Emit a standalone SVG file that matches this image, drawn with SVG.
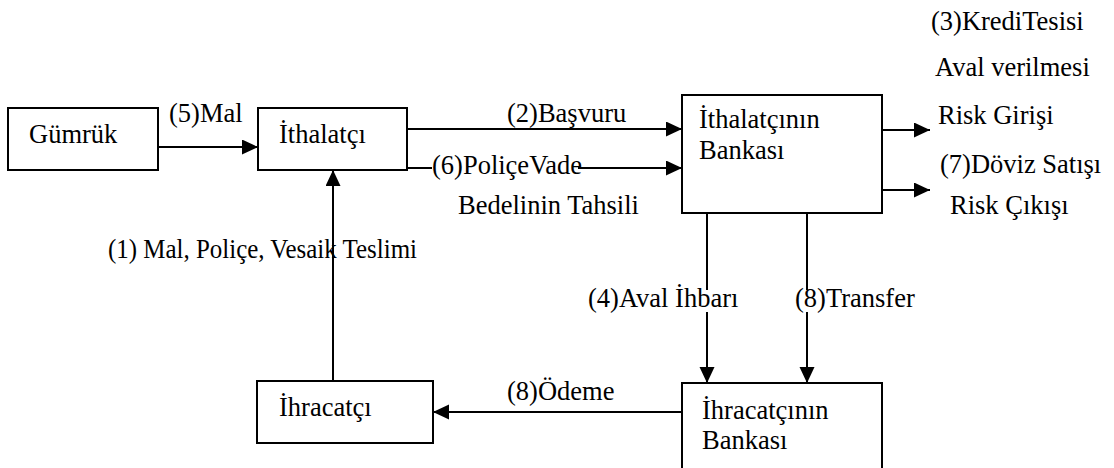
<svg xmlns="http://www.w3.org/2000/svg" width="1114" height="468" viewBox="0 0 1114 468">
  <style>
    .box { fill: #fff; stroke: #000; stroke-width: 2; }
    .edge { fill: none; stroke: #000; stroke-width: 2; }
    .bg { fill: #fff; }
  </style>
  <defs>
    <marker id="arrow" markerUnits="userSpaceOnUse" markerWidth="17" markerHeight="16" refX="16" refY="7.5" orient="auto">
      <path d="M0,0 L16,7.5 L0,15 z" fill="#000"/>
    </marker>
  </defs>
  <rect width="1114" height="468" fill="#fff"/>

  <!-- connectors -->
  <g id="connectors">
    <line class="edge" x1="158" y1="147" x2="258" y2="147" marker-end="url(#arrow)"/>
    <line class="edge" x1="407" y1="129" x2="682" y2="129" marker-end="url(#arrow)"/>
    <line class="edge" x1="407" y1="168" x2="432" y2="168"/>
    <line class="edge" x1="578" y1="168" x2="682" y2="168" marker-end="url(#arrow)"/>
    <line class="edge" x1="882" y1="130" x2="930" y2="130" marker-end="url(#arrow)"/>
    <line class="edge" x1="882" y1="190" x2="930" y2="190" marker-end="url(#arrow)"/>
    <line class="edge" x1="707" y1="213" x2="707" y2="383" marker-end="url(#arrow)"/>
    <line class="edge" x1="807" y1="213" x2="807" y2="383" marker-end="url(#arrow)"/>
    <line class="edge" x1="682" y1="412" x2="433" y2="412" marker-end="url(#arrow)"/>
    <line class="edge" x1="333" y1="381" x2="333" y2="170" marker-end="url(#arrow)"/>
  </g>

  <!-- connector labels -->
  <g id="labels">
    <text font-family="Liberation Serif, serif" font-size="26.5" x="169" y="122">(5)Mal</text>
    <text font-family="Liberation Serif, serif" font-size="26.5" x="507" y="122">(2)Başvuru</text>
    <text font-family="Liberation Serif, serif" font-size="26.5" x="432" y="174">(6)PoliçeVade</text>
    <text font-family="Liberation Serif, serif" font-size="26.5" x="458" y="214">Bedelinin Tahsili</text>
    <text font-family="Liberation Serif, serif" font-size="26.5" x="931" y="30">(3)KrediTesisi</text>
    <text font-family="Liberation Serif, serif" font-size="26.5" x="935" y="76">Aval verilmesi</text>
    <text font-family="Liberation Serif, serif" font-size="26.5" x="938" y="124">Risk Girişi</text>
    <text font-family="Liberation Serif, serif" font-size="26.5" x="940" y="173">(7)Döviz Satışı</text>
    <text font-family="Liberation Serif, serif" font-size="26.5" x="950" y="214">Risk Çıkışı</text>
    <text font-family="Liberation Serif, serif" font-size="26.5" x="108" y="258" textLength="309" lengthAdjust="spacingAndGlyphs">(1) Mal, Poliçe, Vesaik Teslimi</text>
    <rect class="bg" x="700" y="290" width="14" height="22"/>
    <text font-family="Liberation Serif, serif" font-size="26.5" x="588" y="307">(4)Aval İhbarı</text>
    <rect class="bg" x="800" y="290" width="14" height="22"/>
    <text font-family="Liberation Serif, serif" font-size="26.5" x="795" y="307">(8)Transfer</text>
    <text font-family="Liberation Serif, serif" font-size="26.5" x="507" y="400">(8)Ödeme</text>
  </g>

  <!-- nodes -->
  <g id="gumruk">
    <rect class="box" x="8" y="108" width="150" height="62"/>
    <text font-family="Liberation Serif, serif" font-size="26.5" x="29" y="143">Gümrük</text>
  </g>
  <g id="ithalatci">
    <rect class="box" x="258" y="108" width="149" height="62"/>
    <text font-family="Liberation Serif, serif" font-size="26.5" x="279" y="143">İthalatçı</text>
  </g>
  <g id="ithalatci-bankasi">
    <rect class="box" x="682" y="95" width="200" height="118"/>
    <text font-family="Liberation Serif, serif" font-size="26.5" x="699" y="128">İthalatçının</text>
    <text font-family="Liberation Serif, serif" font-size="26.5" x="699" y="159">Bankası</text>
  </g>
  <g id="ihracatci">
    <rect class="box" x="257" y="381" width="176" height="62"/>
    <text font-family="Liberation Serif, serif" font-size="26.5" x="279" y="416">İhracatçı</text>
  </g>
  <g id="ihracatci-bankasi">
    <rect class="box" x="682" y="383" width="200" height="100"/>
    <text font-family="Liberation Serif, serif" font-size="26.5" x="702" y="419">İhracatçının</text>
    <text font-family="Liberation Serif, serif" font-size="26.5" x="702" y="449">Bankası</text>
  </g>
</svg>
